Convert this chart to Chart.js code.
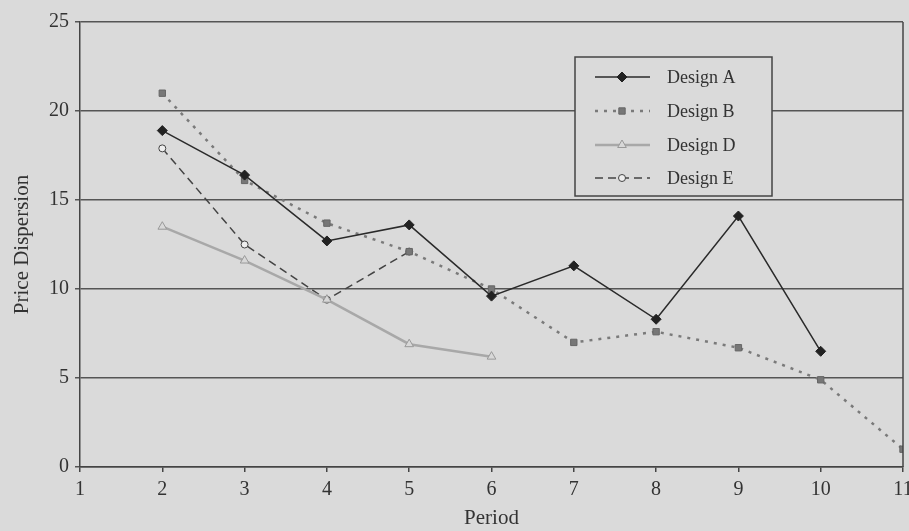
<!DOCTYPE html>
<html>
<head>
<meta charset="utf-8">
<title>Price Dispersion by Period</title>
<script src="https://cdn.jsdelivr.net/npm/chart.js@4"></script>
<style>
  html, body { margin: 0; padding: 0; background: #dadada; }
  #wrap { width: 909px; height: 531px; }
</style>
</head>
<body>
<div id="wrap"><canvas id="chart" width="909" height="531"></canvas></div>
<script>
// values, one entry per period (null = no point)
const periods = [2, 3, 4, 5, 6, 7, 8, 9, 10, 11];
const designA = [18.9, 16.4, 12.7, 13.6, 9.6, 11.3, 8.3, 14.1, 6.5, null];
const designB = [21.0, 16.1, 13.7, 12.1, 10.0, 7.0, 7.6, 6.7, 4.9, 1.0];
const designD = [13.5, 11.6, 9.4, 6.9, 6.2, null, null, null, null, null];
const designE = [17.9, 12.5, 9.4, 12.1, null, null, null, null, null, null];
const xTicks = [1, 2, 3, 4, 5, 6, 7, 8, 9, 10, 11];
const yTicks = [0, 5, 10, 15, 20, 25];

const BG = '#dadada';
const INK = '#333';
const SERIF = '"Liberation Serif", "DejaVu Serif", serif';

const toPoints = vals => periods
  .map((p, i) => ({ x: p, y: vals[i] }))
  .filter(d => d.y !== null);

const series = [
  { label: 'Design A', data: toPoints(designA), borderColor: '#2a2a2a', borderWidth: 1.5, borderDash: [],
    pointStyle: 'rectRot', pointRadius: 5, pointBackgroundColor: '#222', pointBorderColor: '#222' },
  { label: 'Design B', data: toPoints(designB), borderColor: '#7a7a7a', borderWidth: 2.5, borderDash: [3, 6],
    pointStyle: 'rect', pointRadius: 4.5, pointBackgroundColor: '#777', pointBorderColor: '#666' },
  { label: 'Design D', data: toPoints(designD), borderColor: '#a8a8a8', borderWidth: 2.5, borderDash: [],
    pointStyle: 'triangle', pointRadius: 5, pointBackgroundColor: '#d8d8d8', pointBorderColor: '#999' },
  { label: 'Design E', data: toPoints(designE), borderColor: '#444', borderWidth: 1.5, borderDash: [8, 5],
    pointStyle: 'circle', pointRadius: 3.5, pointBackgroundColor: '#eee', pointBorderColor: '#444' }
];

// flat page background + right frame + the boxed legend
const decor = {
  id: 'decor',
  beforeDraw(chart) {
    const { ctx, width, height } = chart;
    ctx.save();
    ctx.fillStyle = BG;
    ctx.fillRect(0, 0, width, height);
    ctx.restore();
  },
  afterDraw(chart) {
    const { ctx, chartArea: a } = chart;
    ctx.save();
    ctx.strokeStyle = '#444';
    ctx.lineWidth = 1.5;
    ctx.beginPath();
    ctx.moveTo(a.right, a.top);
    ctx.lineTo(a.right, a.bottom);
    ctx.stroke();

    // legend box
    const bx = 575, by = 57, bw = 197, bh = 139;
    ctx.fillStyle = BG;
    ctx.fillRect(bx, by, bw, bh);
    ctx.strokeStyle = '#444';
    ctx.lineWidth = 1.5;
    ctx.strokeRect(bx, by, bw, bh);
    const rows = [77, 111, 145, 178];
    chart.data.datasets.forEach((ds, i) => {
      const y = rows[i];
      ctx.save();
      ctx.strokeStyle = ds.borderColor;
      ctx.lineWidth = ds.borderWidth;
      ctx.setLineDash(ds.borderDash);
      ctx.beginPath();
      ctx.moveTo(595, y);
      ctx.lineTo(650, y);
      ctx.stroke();
      ctx.setLineDash([]);
      ctx.fillStyle = ds.pointBackgroundColor;
      ctx.strokeStyle = ds.pointBorderColor;
      ctx.lineWidth = 1;
      Chart.helpers.drawPoint(ctx, { pointStyle: ds.pointStyle, radius: ds.pointRadius, borderWidth: 1, rotation: 0 }, 622, y);
      ctx.restore();
      ctx.fillStyle = INK;
      ctx.font = '18px ' + SERIF;
      ctx.textBaseline = 'middle';
      ctx.fillText(ds.label, 667, y + 1);
    });
    ctx.restore();
  }
};

new Chart(document.getElementById('chart'), {
  type: 'line',
  data: { datasets: series.map(s => Object.assign({ fill: false, tension: 0, pointBorderWidth: 1 }, s)) },
  options: {
    responsive: false,
    animation: false,
    layout: { padding: { top: 22, right: 6, left: 0, bottom: 0 } },
    plugins: { legend: { display: false }, tooltip: { enabled: false } },
    scales: {
      x: {
        type: 'linear',
        min: 1, max: 11,
        afterBuildTicks: s => { s.ticks = xTicks.map(v => ({ value: v })); },
        afterFit: s => { s.height = 64; s.paddingLeft = 0; s.paddingRight = 0; },
        grid: { drawOnChartArea: false, drawTicks: true, tickLength: 5, color: '#444', lineWidth: 1.5 },
        border: { display: true, color: '#444', width: 1.5 },
        ticks: { padding: 6, color: INK, font: { family: SERIF, size: 20 }, maxRotation: 0 },
        title: { display: true, text: 'Period', color: INK, font: { family: SERIF, size: 21 }, padding: { top: 0, bottom: 0 } }
      },
      y: {
        min: 0, max: 25,
        afterBuildTicks: s => { s.ticks = yTicks.map(v => ({ value: v })); },
        afterFit: s => { s.width = 80; s.paddingTop = 0; s.paddingBottom = 0; },
        grid: { color: '#555', lineWidth: 1.5, tickLength: 5 },
        border: { display: true, color: '#444', width: 1.5 },
        ticks: { padding: 6, color: INK, font: { family: SERIF, size: 20 } },
        title: { display: true, text: 'Price Dispersion', color: INK, font: { family: SERIF, size: 21 }, padding: { top: 10, bottom: 0 } }
      }
    }
  },
  plugins: [decor]
});
</script>
</body>
</html>
